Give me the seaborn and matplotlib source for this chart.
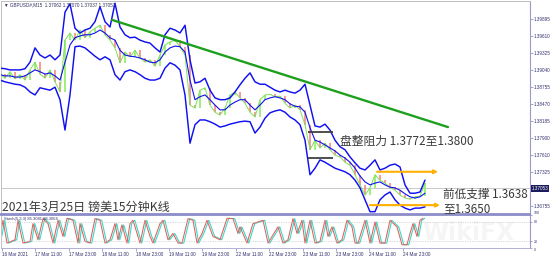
import numpy as np
import pandas as pd
import matplotlib
matplotlib.use("Agg")
import matplotlib.pyplot as plt
import seaborn as sns

# ---------------- data (GBPUSD M15, sampled every ~7 bars) ----------------
upper = [1.3907, 1.3906, 1.3904, 1.3904, 1.3904, 1.3906, 1.3917, 1.3941, 1.3929, 1.3924,
         1.3929, 1.3921, 1.3929, 1.4001, 1.4015, 1.3974, 1.3966, 1.3971, 1.3974, 1.3985,
         1.4010, 1.3985, 1.3976, 1.4016, 1.3976, 1.3963, 1.3958, 1.3959, 1.3954, 1.3951,
         1.3949, 1.3941, 1.3934, 1.3963, 1.3974, 1.3971, 1.3966, 1.3979, 1.3921, 1.3882,
         1.3884, 1.3890, 1.3870, 1.3857, 1.3854, 1.3854, 1.3857, 1.3867, 1.3879, 1.3890,
         1.3899, 1.3884, 1.3880, 1.3880, 1.3875, 1.3870, 1.3867, 1.3870, 1.3867, 1.3865,
         1.3870, 1.3880, 1.3845, 1.3810, 1.3808, 1.3813, 1.3803, 1.3786, 1.3775, 1.3770,
         1.3758, 1.3748, 1.3739, 1.3736, 1.3744, 1.3753, 1.3736, 1.3739, 1.3744, 1.3746,
         1.3741, 1.3711, 1.3697, 1.3697, 1.3699, 1.3719]
mid = [1.3896, 1.3894, 1.3894, 1.3892, 1.3892, 1.3894, 1.3899, 1.3904, 1.3901, 1.3897,
       1.3899, 1.3894, 1.3887, 1.3917, 1.3946, 1.3958, 1.3961, 1.3963, 1.3963, 1.3966,
       1.3971, 1.3966, 1.3958, 1.3954, 1.3937, 1.3929, 1.3927, 1.3926, 1.3924, 1.3921,
       1.3917, 1.3916, 1.3921, 1.3934, 1.3941, 1.3944, 1.3943, 1.3934, 1.3887, 1.3854,
       1.3859, 1.3862, 1.3854, 1.3845, 1.3837, 1.3837, 1.3845, 1.3850, 1.3854, 1.3854,
       1.3845, 1.3837, 1.3845, 1.3854, 1.3857, 1.3859, 1.3857, 1.3854, 1.3847, 1.3843,
       1.3842, 1.3833, 1.3807, 1.3786, 1.3783, 1.3778, 1.3773, 1.3768, 1.3761, 1.3756,
       1.3749, 1.3739, 1.3726, 1.3716, 1.3711, 1.3714, 1.3716, 1.3711, 1.3707, 1.3706,
       1.3702, 1.3696, 1.3691, 1.3689, 1.3691, 1.3697]
lower = [1.3887, 1.3884, 1.3882, 1.3880, 1.3879, 1.3875, 1.3867, 1.3862, 1.3874, 1.3872,
         1.3870, 1.3875, 1.3854, 1.3803, 1.3862, 1.3943, 1.3944, 1.3941, 1.3934, 1.3927,
         1.3921, 1.3926, 1.3921, 1.3896, 1.3887, 1.3901, 1.3904, 1.3901, 1.3896, 1.3890,
         1.3887, 1.3887, 1.3890, 1.3907, 1.3916, 1.3912, 1.3904, 1.3862, 1.3781, 1.3812,
         1.3820, 1.3820, 1.3817, 1.3813, 1.3808, 1.3810, 1.3813, 1.3815, 1.3817, 1.3818,
         1.3817, 1.3798, 1.3808, 1.3823, 1.3832, 1.3835, 1.3837, 1.3833, 1.3825, 1.3820,
         1.3812, 1.3786, 1.3728, 1.3739, 1.3753, 1.3749, 1.3744, 1.3739, 1.3736, 1.3733,
         1.3728, 1.3719, 1.3706, 1.3686, 1.3666, 1.3666, 1.3686, 1.3694, 1.3699, 1.3686,
         1.3677, 1.3672, 1.3669, 1.3672, 1.3672, 1.3674]
close = [1.3897, 1.3890, 1.3901, 1.3889, 1.3896, 1.3887, 1.3904, 1.3917, 1.3897, 1.3890,
         1.3904, 1.3884, 1.3867, 1.3954, 1.3966, 1.3954, 1.3971, 1.3958, 1.3968, 1.3974,
         1.3979, 1.3963, 1.3954, 1.3941, 1.3916, 1.3934, 1.3926, 1.3937, 1.3924, 1.3917,
         1.3921, 1.3910, 1.3929, 1.3946, 1.3951, 1.3954, 1.3943, 1.3929, 1.3845, 1.3840,
         1.3870, 1.3874, 1.3845, 1.3833, 1.3828, 1.3840, 1.3862, 1.3867, 1.3857, 1.3848,
         1.3833, 1.3825, 1.3854, 1.3862, 1.3863, 1.3859, 1.3860, 1.3848, 1.3840, 1.3845,
         1.3837, 1.3812, 1.3770, 1.3786, 1.3773, 1.3781, 1.3770, 1.3761, 1.3758, 1.3749,
         1.3744, 1.3728, 1.3711, 1.3694, 1.3706, 1.3728, 1.3719, 1.3714, 1.3707, 1.3702,
         1.3694, 1.3689, 1.3687, 1.3691, 1.3692, 1.3714]

stoch_t = [0.0, 0.6, 1.4, 3.0, 3.6, 4.6, 6.0, 6.6, 7.6, 8.6,
           9.6, 10.6, 11.6, 12.6, 13.4, 14.6, 15.6, 16.0, 17.0, 18.0,
           19.0, 20.0, 21.0, 22.0, 23.0, 23.6, 24.4, 25.4, 26.0, 26.6,
           28.0, 29.0, 30.0, 30.6, 32.0, 32.6, 33.6, 34.6, 35.6, 36.4,
           37.6, 38.6, 39.4, 40.4, 41.4, 42.6, 44.0, 45.4, 46.6, 47.6,
           48.0, 49.4, 50.6, 52.6, 53.6, 55.6, 56.6, 57.6, 58.6, 59.4,
           60.4, 61.0, 62.0, 63.0, 64.0, 65.0, 65.6, 66.4, 67.4, 68.4,
           69.4, 70.4, 71.0, 71.6, 73.0, 74.0, 75.0, 76.0, 77.0, 78.0,
           79.4, 80.4, 81.4, 82.0, 82.6, 83.4, 84.0, 84.6]
stoch_k = [35, 84, 15, 25, 84, 15, 20, 74, 25, 89,
           74, 15, 84, 35, 90, 84, 15, 74, 20, 15,
           89, 84, 15, 25, 74, 25, 70, 15, 74, 84,
           15, 84, 35, 15, 74, 84, 25, 44, 15, 15,
           89, 84, 15, 44, 84, 35, 25, 90, 89, 44,
           64, 15, 74, 84, 15, 64, 15, 25, 89, 44,
           84, 15, 84, 15, 20, 84, 35, 64, 15, 25,
           84, 64, 15, 15, 84, 15, 79, 15, 15, 84,
           64, 10, 10, 44, 74, 35, 84, 90]

price_ticks = [1.39895, 1.39610, 1.39325, 1.39040, 1.38755, 1.38470,
               1.38185, 1.37900, 1.37610, 1.37325, 1.36755]
price_labels = ["1.39895", "1.39610", "1.39325", "1.39040", "1.38755", "1.38470",
                "1.38185", "1.37900", "1.37610", "1.37325", "1.36755"]
last_price = 1.37053
x_labels = ["16 Mar 2021", "17 Mar 11:00", "17 Mar 23:00", "18 Mar 11:00",
            "18 Mar 23:00", "19 Mar 11:00", "19 Mar 23:00", "22 Mar 11:00",
            "22 Mar 23:00", "23 Mar 11:00", "23 Mar 23:00", "24 Mar 11:00",
            "24 Mar 23:00"]
trend_t = [22.4, 89.6]
trend_p = [1.3988, 1.3808]
resist_levels = [1.3800, 1.3756]
support_levels = [1.3733, 1.3677]

# ---------------- figure ----------------
sns.set_style("white")
plt.rcParams['font.family'] = ['Noto Sans CJK SC', 'DejaVu Sans']

W, H = 554, 258
fig = plt.figure(figsize=(W / 100, H / 100), dpi=100)
fig.patch.set_facecolor("white")

def rect(x0, y0, x1, y1):
    return [x0 / W, 1 - y1 / H, (x1 - x0) / W, (y1 - y0) / H]

ax = fig.add_axes(rect(1, 1, 530, 214))
ax2 = fig.add_axes(rect(1, 215, 530, 248))

t = np.arange(len(mid))
df = pd.DataFrame({"t": t, "upper": upper, "mid": mid, "lower": lower, "close": close})

blue = "#1010f0"
# candles (bodies between successive closes)
for i in range(1, len(close)):
    up = close[i] >= close[i - 1]
    ax.vlines(t[i], min(close[i], close[i - 1]), max(close[i], close[i - 1]),
              color="#8eee66" if up else "#f48a8a", lw=1.2, zorder=2)
sns.lineplot(data=df, x="t", y="close", ax=ax, color="#7ee05a", lw=0.7, zorder=3)
sns.lineplot(data=df, x="t", y="upper", ax=ax, color=blue, lw=1.05, zorder=4)
sns.lineplot(data=df, x="t", y="lower", ax=ax, color=blue, lw=1.05, zorder=4)
sns.lineplot(data=df, x="t", y="mid", ax=ax, color=blue, lw=0.8, zorder=4)

# trend line
sns.lineplot(x=trend_t, y=trend_p, ax=ax, color="#1ea01e", lw=1.7, zorder=5)
# resistance markers
ax.hlines(resist_levels, 61.6, 66.6, color="#404040", lw=1.3, zorder=5)
# support arrows
for lvl, (a, b) in zip(support_levels, [(75.4, 87.6), (74.0, 88.0)]):
    ax.annotate("", xy=(b, lvl), xytext=(a, lvl),
                arrowprops=dict(arrowstyle="-|>", color="#ffb000", lw=1.5,
                                mutation_scale=5, shrinkA=0, shrinkB=0), zorder=6)
# bid line
ax.axhline(last_price, color="#c8c8c8", lw=0.7, zorder=1)

ax.set_xlim(0.2, 106)
ax.set_ylim(1.36621, 1.40197)
ax.set_xlabel("")
ax.set_ylabel("")
ax.set_xticks([])
ax.yaxis.tick_right()
ax.set_yticks(price_ticks)
ax.set_yticklabels(price_labels)
ax.tick_params(axis="y", right=True, length=2, width=0.5, pad=1, labelsize=3.3,
               labelcolor="#303070", color="#8080b0")
for lab in ax.get_yticklabels():
    lab.set_family("Liberation Sans")
ax.text(1.003, last_price, "1.37053", transform=ax.get_yaxis_transform(),
        fontsize=3.3, color="white", va="center", ha="left", family="Liberation Sans",
        bbox=dict(facecolor="#1c1c5c", edgecolor="none", pad=0.6), zorder=10)
for s in ["top", "left"]:
    ax.spines[s].set_color("#c0c0c0")
    ax.spines[s].set_linewidth(0.7)
ax.spines["right"].set_color("#9a9acd")
ax.spines["right"].set_linewidth(0.8)
ax.spines["bottom"].set_color("#8c8cc8")
ax.spines["bottom"].set_linewidth(1.3)

# ---------------- stochastic ----------------
st = pd.DataFrame({"t": stoch_t, "k": stoch_k})
sns.lineplot(x=np.array(stoch_t) + 0.35, y=stoch_k, ax=ax2, color="#3fd6c8", lw=0.8)
sns.lineplot(data=st, x="t", y="k", ax=ax2, color="#e0605a", lw=0.75)
for lvl in [80, 20]:
    ax2.axhline(lvl, color="#b8b8b8", lw=0.5, ls=(0, (1, 1.5)))
ax2.set_xlim(0.2, 106)
ax2.set_ylim(0, 100)
ax2.set_xlabel("")
ax2.set_ylabel("")
ax2.yaxis.tick_right()
ax2.set_yticks([100, 80, 20, 0])
ax2.set_yticklabels(["100", "80", "20", "0"])
ax2.tick_params(axis="y", right=True, length=1.5, width=0.5, pad=1, labelsize=2.5,
                labelcolor="#303070", color="#8080b0")
xt = [(2 + 33.4 * k) / 5 for k in range(len(x_labels))]
ax2.set_xticks(xt)
ax2.set_xticklabels(x_labels, ha="left")
ax2.tick_params(axis="x", bottom=True, length=2, width=0.5, pad=1, labelsize=3.3,
                labelcolor="#303070", color="#8080b0")
for lab in ax2.get_xticklabels() + ax2.get_yticklabels():
    lab.set_family("Liberation Sans")
ax2.get_yticklabels()[0].set_va("bottom")
ax2.get_yticklabels()[3].set_va("top")
ax2.spines["top"].set_color("#8c8cc8")
ax2.spines["top"].set_linewidth(1.3)
ax2.spines["right"].set_color("#9a9acd")
ax2.spines["right"].set_linewidth(0.8)
ax2.spines["bottom"].set_color("#b0b0d8")
ax2.spines["bottom"].set_linewidth(0.7)
ax2.spines["left"].set_color("#c0c0c0")
ax2.spines["left"].set_linewidth(0.7)
ax2.text(3 / 529, 0.93, "Stoch(5,3,3) 85.3081 88.3064", transform=ax2.transAxes,
         fontsize=3.0, color="#303070", va="top", family="Liberation Sans")

# ---------------- texts ----------------
fig.text(4 / W, 1 - 5 / H, "▼ GBPUSD#,M15  1.37062 1.37070 1.37037 1.37053",
         fontsize=3.3, color="#303060", va="center", family=["Liberation Sans", "DejaVu Sans"])
cjk = ["Noto Sans CJK SC", "DejaVu Sans"]
fig.text(2 / W, 1 - 207 / H, "2021年3月25日 镑美15分钟K线", fontsize=8.7,
         color="#3a3a3a", va="center", ha="left", family=cjk)
fig.text(340 / W, 1 - 141 / H, "盘整阻力 1.3772至1.3800", fontsize=8.5,
         color="#3a3a3a", va="center", ha="left", family=cjk)
fig.text(443 / W, 1 - 194 / H, "前低支撑 1.3638", fontsize=8.4,
         color="#3a3a3a", va="center", ha="left", family=cjk)
fig.text(443 / W, 1 - 209 / H, "至1.3650", fontsize=8.4,
         color="#3a3a3a", va="center", ha="left", family=cjk)
fig.text(468 / W, 1 - 233 / H, "WikiFX", fontsize=17, color="#d0d0d0", alpha=0.2,
         ha="center", va="center", fontweight="bold", family="DejaVu Sans")

fig.savefig("out.png", dpi=100, facecolor="white")
